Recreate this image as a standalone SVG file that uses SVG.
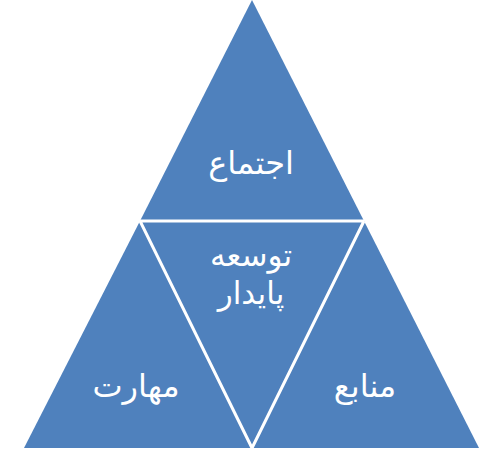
<svg xmlns="http://www.w3.org/2000/svg" width="498" height="458" viewBox="0 0 498 458">
<style>
.tri{fill:#4F81BD;stroke:none}
.div{stroke:#FFFFFF;stroke-width:3;fill:none;stroke-linejoin:miter}
.lbl{font-family:"DejaVu Sans","Noto Sans",sans-serif;font-size:32px;fill:#FFFFFF;text-anchor:middle}
.sm{font-size:31px}
</style>
<rect width="498" height="458" fill="#FFFFFF"/>
<g id="node-ejtema">
<polygon class="tri" points="252,0 364,221 140,221"/>
<text class="lbl" x="251" y="174" direction="rtl">اجتماع</text>
</g>
<g id="node-maharat">
<polygon class="tri" points="140,221 252,448 24,448"/>
<text class="lbl" x="136" y="397" direction="rtl">مهارت</text>
</g>
<g id="node-manabe">
<polygon class="tri" points="364,221 479,448 252,448"/>
<text class="lbl" x="365" y="397" direction="rtl">منابع</text>
</g>
<g id="node-tose">
<polygon class="tri" points="140,221 364,221 252,448"/>
<text class="lbl sm" x="251" y="266" direction="rtl">توسعه</text>
<text class="lbl sm" x="251" y="304" direction="rtl">پایدار</text>
</g>
<g id="connectors">
<polyline class="div" points="364,221 140,221 252,448 364,221"/>
</g>
</svg>
